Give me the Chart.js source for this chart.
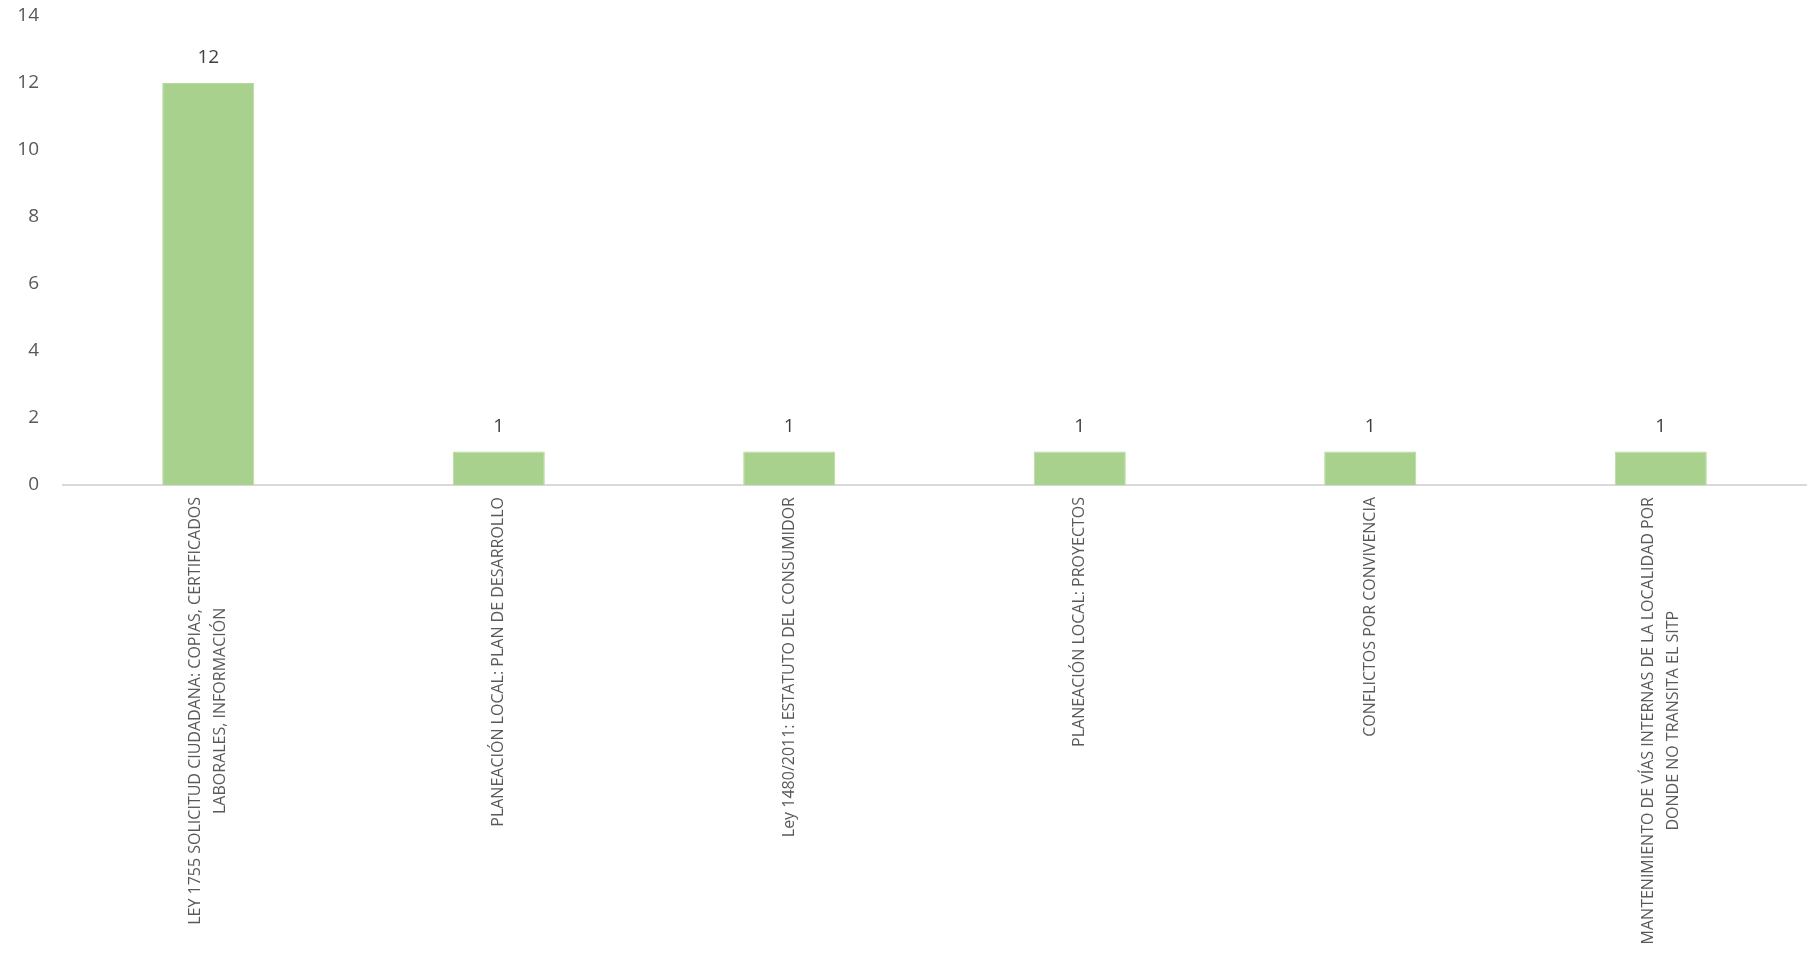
<!DOCTYPE html>
<html>
<head>
<meta charset="utf-8">
<script src="https://cdn.jsdelivr.net/npm/chart.js@4.4.1/dist/chart.umd.min.js"></script>
<style>
  html, body { margin: 0; padding: 0; background: #fff; }
  #wrap { width: 1812px; height: 957px; position: relative; }
</style>
</head>
<body>
<div id="wrap"><canvas id="myChart"></canvas></div>
<script>
// categories (multi-line where the original wraps)
const categories = [
  ['LEY 1755 SOLICITUD CIUDADANA: COPIAS, CERTIFICADOS', 'LABORALES, INFORMACIÓN'],
  ['PLANEACIÓN LOCAL: PLAN DE DESARROLLO'],
  ['Ley 1480/2011: ESTATUTO DEL CONSUMIDOR'],
  ['PLANEACIÓN LOCAL: PROYECTOS'],
  ['CONFLICTOS POR CONVIVENCIA'],
  ['MANTENIMIENTO DE VÍAS INTERNAS DE LA LOCALIDAD POR', 'DONDE NO TRANSITA EL SITP']
];
const counts = [12, 1, 1, 1, 1, 1];
const yTicks = [0, 2, 4, 6, 8, 10, 12, 14];

const labelFont = '16px "Open Sans", sans-serif';
const labelLineGap = 25;

// value above each bar
const valueLabels = {
  id: 'valueLabels',
  afterDatasetsDraw(chart){
    const ctx = chart.ctx;
    const meta = chart.getDatasetMeta(0);
    ctx.save();
    ctx.font = '19px "Open Sans", sans-serif';
    ctx.fillStyle = '#404040';
    ctx.textAlign = 'center';
    ctx.textBaseline = 'middle';
    meta.data.forEach((bar, i) => {
      ctx.fillText(counts[i], bar.x, bar.y - 25);
    });
    ctx.restore();
  }
};

// category labels, rotated, lines centred on each other like Excel does
const categoryLabels = {
  id: 'categoryLabels',
  afterDraw(chart){
    const ctx = chart.ctx;
    const xs = chart.scales.x;
    const top = xs.top + 12;
    ctx.save();
    ctx.font = labelFont;
    ctx.fillStyle = '#595959';
    ctx.textAlign = 'center';
    ctx.textBaseline = 'middle';
    categories.forEach((lines, i) => {
      const cx = xs.getPixelForTick(i);
      const widest = Math.max(...lines.map(l => ctx.measureText(l).width));
      const cy = top + widest / 2;
      lines.forEach((line, j) => {
        const off = (j - (lines.length - 1) / 2) * labelLineGap;
        ctx.save();
        ctx.translate(cx + off, cy);
        ctx.rotate(-Math.PI / 2);
        ctx.fillText(line, 0, 0);
        ctx.restore();
      });
    });
    ctx.restore();
  }
};

const config = {
  type: 'bar',
  data: {
    labels: categories.map(c => c.join(' ')),
    datasets: [{
      data: counts,
      backgroundColor: '#a9d18e',
      borderColor: '#b5d99c',
      borderWidth: 1,
      categoryPercentage: 1,
      barPercentage: 0.317
    }]
  },
  options: {
    responsive: false,
    animation: false,
    devicePixelRatio: 1,
    layout: { padding: { top: 0, right: 6, left: 0, bottom: 0 } },
    plugins: { legend: { display: false }, tooltip: { enabled: false } },
    scales: {
      x: {
        grid: { display: false, drawTicks: false },
        border: { display: true, color: '#d9d9d9', width: 2 },
        ticks: { display: false },
        afterFit(scale){ scale.height = 472; }
      },
      y: {
        min: 0,
        max: 14,
        afterBuildTicks(scale){ scale.ticks = yTicks.map(v => ({ value: v })); },
        grid: { display: false, drawTicks: false },
        border: { display: false },
        ticks: {
          padding: 24,
          color: '#595959',
          font: { family: 'Open Sans', size: 19 }
        },
        afterFit(scale){
          scale.width = 63;
          scale.paddingTop = 16;
          scale.paddingBottom = 0;
        }
      }
    }
  },
  plugins: [valueLabels, categoryLabels]
};

const canvas = document.getElementById('myChart');
canvas.width = 1812;
canvas.height = 957;
new Chart(canvas, config);
</script>
</body>
</html>
